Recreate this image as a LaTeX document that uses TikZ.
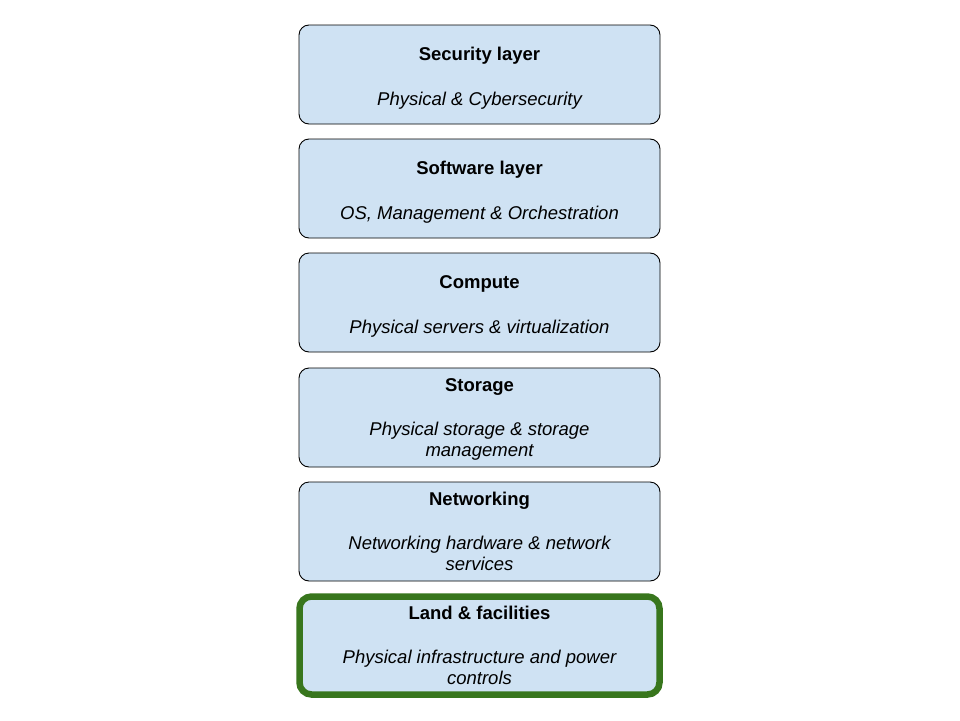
\documentclass[tikz,border=0pt]{standalone}
\usepackage{fontspec}
\setmainfont{Liberation Sans}
\begin{document}
\begin{tikzpicture}[x=1pt,y=-1pt,
  layerbox/.style={draw=black,line width=0.9pt,fill=boxblue,rounded corners=10pt},
  landbox/.style={draw=landgreen,line width=6.5pt,fill=boxblue,rounded corners=12pt},
  ttl/.style={font=\fontsize{18.5}{22}\selectfont\bfseries,inner sep=0pt,anchor=base},
  sub/.style={font=\fontsize{18.5}{22}\selectfont\itshape,inner sep=0pt,anchor=base}]
\definecolor{boxblue}{HTML}{CFE2F3}
\definecolor{landgreen}{HTML}{38761D}
\useasboundingbox (0,0) rectangle (960,720);
\fill[white] (0,0) rectangle (960,720);
% boxes
\draw[layerbox] (299,25) rectangle (660,124) coordinate (b1);
\draw[layerbox] (299,139) rectangle (660,238) coordinate (b2);
\draw[layerbox] (299,253) rectangle (660,352) coordinate (b3);
\draw[layerbox] (299,368) rectangle (660,467) coordinate (b4);
\draw[layerbox] (299,482) rectangle (660,581) coordinate (b5);
\draw[landbox] (299.5,596.5) rectangle (659.5,694.5) coordinate (b6);
% texts
\node[ttl] (t1) at (479.5,60) {Security layer};
\node[sub] (s1) at (479.5,105) {Physical \& Cybersecurity};
\node[ttl] (t2) at (479.5,174) {Software layer};
\node[sub] (s2) at (479.5,219) {OS, Management \& Orchestration};
\node[ttl] (t3) at (479.5,288) {Compute};
\node[sub] (s3) at (479.5,333) {Physical servers \& virtualization};
\node[ttl] (t4) at (479.5,391) {Storage};
\node[sub] (s4a) at (479.5,435) {Physical storage \& storage};
\node[sub] (s4b) at (479.5,456.5) {management};
\node[ttl] (t5) at (479.5,505) {Networking};
\node[sub] (s5a) at (479.5,549) {Networking hardware \& network};
\node[sub] (s5b) at (479.5,570.5) {services};
\node[ttl] (t6) at (479.5,619) {Land \& facilities};
\node[sub] (s6a) at (479.5,663) {Physical infrastructure and power};
\node[sub] (s6b) at (479.5,684.5) {controls};
\end{tikzpicture}
\end{document}
